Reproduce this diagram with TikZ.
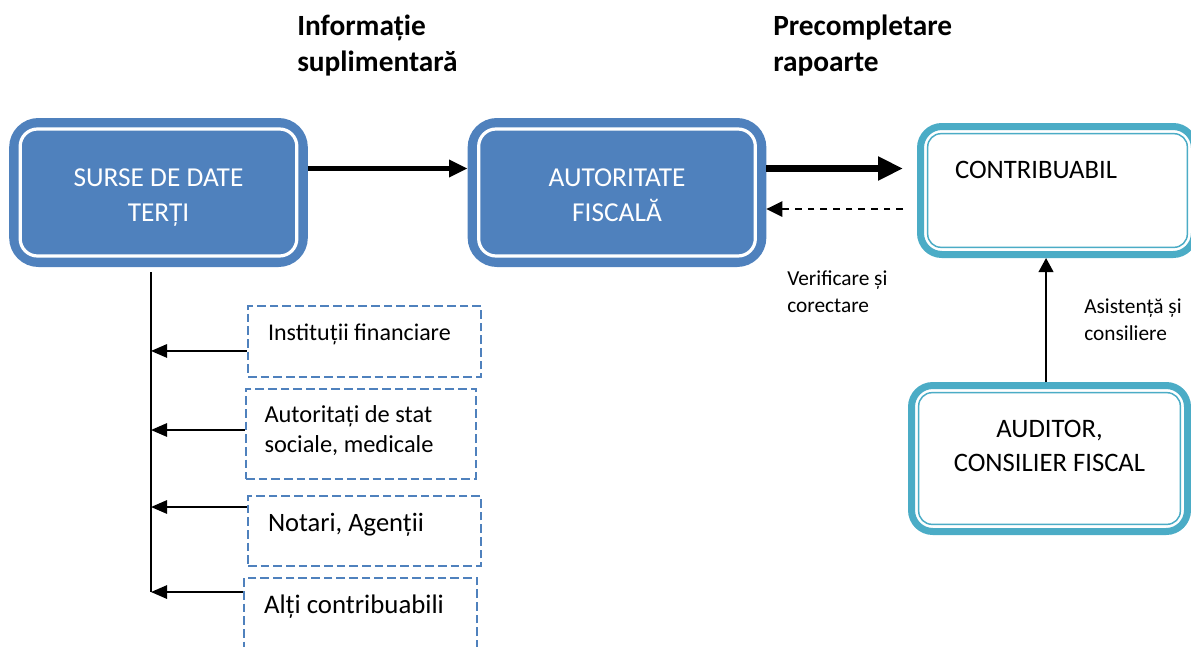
\documentclass[tikz,border=0pt]{standalone}
\usepackage{fontspec}
\setmainfont{Carlito}
\usetikzlibrary{positioning,arrows.meta}
\definecolor{fillblue}{HTML}{4F81BD}
\definecolor{tealline}{HTML}{4BACC6}

\begin{document}
\begin{tikzpicture}[x=0.75pt,y=-0.75pt,
    bluebox/.style={draw=fillblue,fill=fillblue,line width=6pt,rounded corners=19pt,
      minimum width=218pt,minimum height=105.75pt,text=white,text width=200pt,align=flush center,
      text height=12pt,text depth=20.8pt,font=\fontsize{20.5}{26.25}\selectfont},
    tealbox/.style={draw=tealline,fill=white,line width=5.25pt,rounded corners=16pt,
      text height=12pt,font=\fontsize{20}{25.5}\selectfont},
    srcitem/.style={draw=fillblue,dash pattern=on 6.5pt off 3pt,line width=1.7pt,
      minimum width=174.75pt,inner xsep=0pt,text width=144.75pt,align=flush left,
      text height=12pt,text depth=13.4pt},
    feed/.style={line width=1.4pt,-{Triangle[length=12pt,width=10pt]}},
    headline/.style={anchor=base west,text width=180pt,align=flush left,inner xsep=0pt,
      font=\bfseries\fontsize{22}{27}\selectfont},
    sidenote/.style={anchor=base west,text width=120pt,align=flush left,inner xsep=0pt,
      font=\fontsize{16}{20.25}\selectfont}]
  \useasboundingbox (0,0) rectangle (1191,646);

  % headings
  \node[headline] (info) at (297,36) {Informație\\suplimentară};
  \node[headline] (prec) at (773,36) {Precompletare\\rapoarte};

  % main boxes
  \node[bluebox] (src) at (158.5,192.5) {SURSE DE DATE\\TERȚI};
  \node[bluebox] (auth) at (617,192.5) {AUTORITATE\\FISCALĂ};
  \node[tealbox,minimum width=205.5pt,minimum height=96pt,text width=153.75pt,
    align=flush left,text depth=29.4pt] (ctb) at (1057.5,190.5) {CONTRIBUABIL};
  \node[tealbox,minimum width=207pt,minimum height=109.5pt,text width=190pt,
    align=flush center,text depth=43.6pt] (aud) at (1049.5,458.5) {AUDITOR,\\CONSILIER FISCAL};

  % inner rims
  \foreach \n in {src,auth}
    \draw[white,line width=2.4pt,rounded corners=13pt]
      ([shift={(8.25pt,8.25pt)}]\n.south west) rectangle ([shift={(-8.25pt,-8.25pt)}]\n.north east);
  \foreach \n in {ctb,aud}
    \draw[tealline,line width=1.1pt,rounded corners=10pt]
      ([shift={(8pt,8pt)}]\n.south west) rectangle ([shift={(-8pt,-8pt)}]\n.north east);

  % data sources
  \node[srcitem,minimum height=53.25pt,font=\fontsize{18}{22}\selectfont]
    (inst) at (364.5,341.5) {Instituții financiare};
  \node[srcitem,minimum width=172.5pt,minimum height=67.5pt,text depth=28.9pt,
    font=\fontsize{18.3}{22.5}\selectfont] (stat) at (361,434) {Autoritați de stat\\sociale, medicale};
  \node[srcitem,minimum height=52.5pt,text depth=11.4pt,font=\fontsize{19.9}{24}\selectfont]
    (notar) at (364.5,531) {Notari, Agenții};
  \node[srcitem,minimum height=68.25pt,text depth=27.1pt,font=\fontsize{20.1}{24}\selectfont]
    (alti) at (360.5,623.5) {Alți contribuabili};

  % side notes
  \node[sidenote] (verif) at (787,285) {Verificare și\\corectare};
  \node[sidenote] (asist) at (1084,313) {Asistență și\\consiliere};

  % draw edges
  \draw[line width=3.75pt,-{Triangle[length=14pt,width=12.5pt]}]
    ([yshift=18pt]src.east) -- ([yshift=18pt]auth.west);
  \draw[line width=5.5pt,-{Triangle[length=18.75pt,width=17pt]},shorten >=10.5pt]
    ([yshift=18pt]auth.east) -- ([yshift=18pt]auth.east -| ctb.west);
  \draw[line width=1.4pt,dash pattern=on 5pt off 4.5pt,-{Triangle[length=12pt,width=11.5pt]},shorten <=10.5pt]
    ([yshift=-12.4pt]auth.east -| ctb.west) -- ([yshift=-12.4pt]auth.east);
  \draw[line width=1.4pt,-{Triangle[length=10.5pt,width=11pt]}]
    ([xshift=-2.6pt]aud.north) -- ([xshift=-2.6pt]aud.north |- ctb.south);

  % trunk and feeders
  \coordinate (trunk) at (151,272);
  \draw[line width=1.4pt] (trunk) -- ([yshift=23.6pt]alti.west -| trunk);
  \foreach \n/\dy in {inst/-7.1pt,stat/3pt,notar/18pt,alti/23.6pt}
    \draw[feed] ([yshift=\dy]\n.west) -- ([yshift=\dy]\n.west -| trunk);
\end{tikzpicture}
\end{document}
